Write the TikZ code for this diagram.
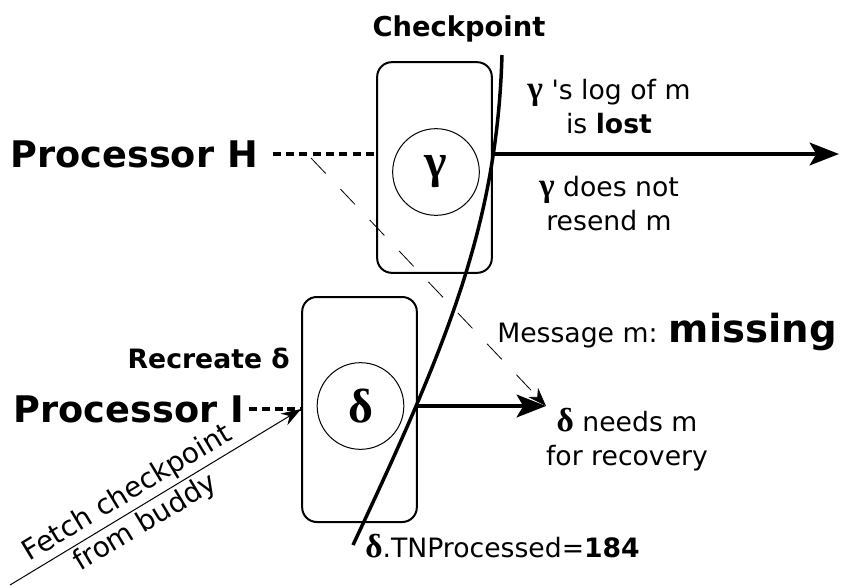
\documentclass[tikz,border=0pt]{standalone}
\usepackage{fontspec}
\setmainfont{DejaVu Sans}
\newfontfamily\plainfont{DejaVu Sans}
\newfontfamily\grkfont{Liberation Serif}
\usetikzlibrary{positioning,arrows.meta}
\newcommand{\gsym}[1]{{\grkfont\bfseries\fontsize{25}{25}\selectfont #1}}

\begin{document}
\begin{tikzpicture}[
  x=0.75pt,y=-0.75pt,
  procbox/.style={draw,line width=1.5pt,rounded corners=11pt,minimum width=86pt,inner sep=0pt},
  ckcirc/.style={circle,draw,line width=0.75pt,minimum size=65pt,inner sep=0pt,font=\grkfont\bfseries\fontsize{36}{36}\selectfont},
  proclab/.style={font=\fontsize{27.5}{32}\selectfont\bfseries,inner sep=0pt},
  note/.style={font=\fontsize{20}{25.5}\selectfont,align=center,inner sep=0pt},
  ckline/.style={line width=2.6pt},
  sendarr/.style={line width=3pt,-{Stealth[length=22pt,width=17pt,inset=5pt]}},
  hdash/.style={line width=3pt,dash pattern=on 6pt off 4pt},
  idash/.style={line width=2.4pt,dash pattern=on 6pt off 3.5pt},
  lostarr/.style={line width=0.6pt,dash pattern=on 16pt off 16pt,-{Stealth[length=14pt,width=10pt]}},
  fetcharr/.style={line width=0.75pt,-{Stealth[length=15pt,width=10pt]}}
]
\useasboundingbox (0,0) rectangle (851,587);

% Checkpoint line
\coordinate (ckTop) at (502,55);
\coordinate (ckBot) at (353,545);
\draw[ckline] (ckTop) .. controls (497,225) and (447,345) .. (ckBot);
\node[font=\fontsize{20.5}{24}\selectfont\bfseries,anchor=base,inner sep=0pt] (cklab) at (459,36) {Checkpoint};

% Processor H with gamma
\node[procbox,minimum height=158pt] (gbox) at (434.5,167.5) {};
\node[ckcirc] (gcirc) at (436,172) {γ};
\node[proclab,anchor=east] (procH) at (258,154) {Processor H};
\draw[hdash] ([xshift=11pt]procH.east) -- (procH.east -| gbox.west);

% Processor I with delta
\node[procbox,minimum height=168.75pt] (dbox) at (359.5,409.5) {};
\node[ckcirc] (dcirc) at (360.5,406) {δ};
\node[proclab,anchor=east] (procI) at (244,409) {Processor I};
\coordinate (dIn) at (procI.east -| dbox.west);
\draw[idash,shorten <=4pt] (procI.east) -- (dIn);
\node[font=\fontsize{20}{24}\selectfont\bfseries,anchor=base east,inner sep=0pt] (recr) at (290,368) {Recreate δ};

% sends
\coordinate (ckH) at (492,154);
\coordinate (hEnd) at (839,154);
\coordinate (ckI) at (417,406);
\coordinate (needm) at (546,406);
\draw[sendarr] (ckH) -- (hEnd);
\draw[sendarr] (ckI) -- (needm);

% lost message
\coordinate (lostlog) at (311,158);
\draw[lostarr] (lostlog) -- (needm);
\node[note,anchor=base west] (msg) at (497,342) {Message m: {\fontsize{29}{34}\selectfont\bfseries missing}};

% fetch from buddy
\coordinate (fetchStart) at (10,585);
\draw[fetcharr] (fetchStart) -- node[note,font=\fontsize{21}{26}\selectfont,sloped,pos=0.435] (fetchlab) {Fetch checkpoint\\from buddy} (dIn);

% notes (base = last line)
\node[note,anchor=base] (loglab) at (609,133) {\gsym{γ} {\plainfont'}s log of m\\is \textbf{lost}};
\node[note,anchor=base] (resend) at (609,230) {\gsym{γ} does not\\resend m};
\node[note,anchor=base] (needlab) at (627,465) {\gsym{δ} needs m\\for recovery};
\node[note,anchor=base west] (tnlab) at (365,557) {\gsym{δ}.TNProcessed=\textbf{184}};

\end{tikzpicture}
\end{document}
